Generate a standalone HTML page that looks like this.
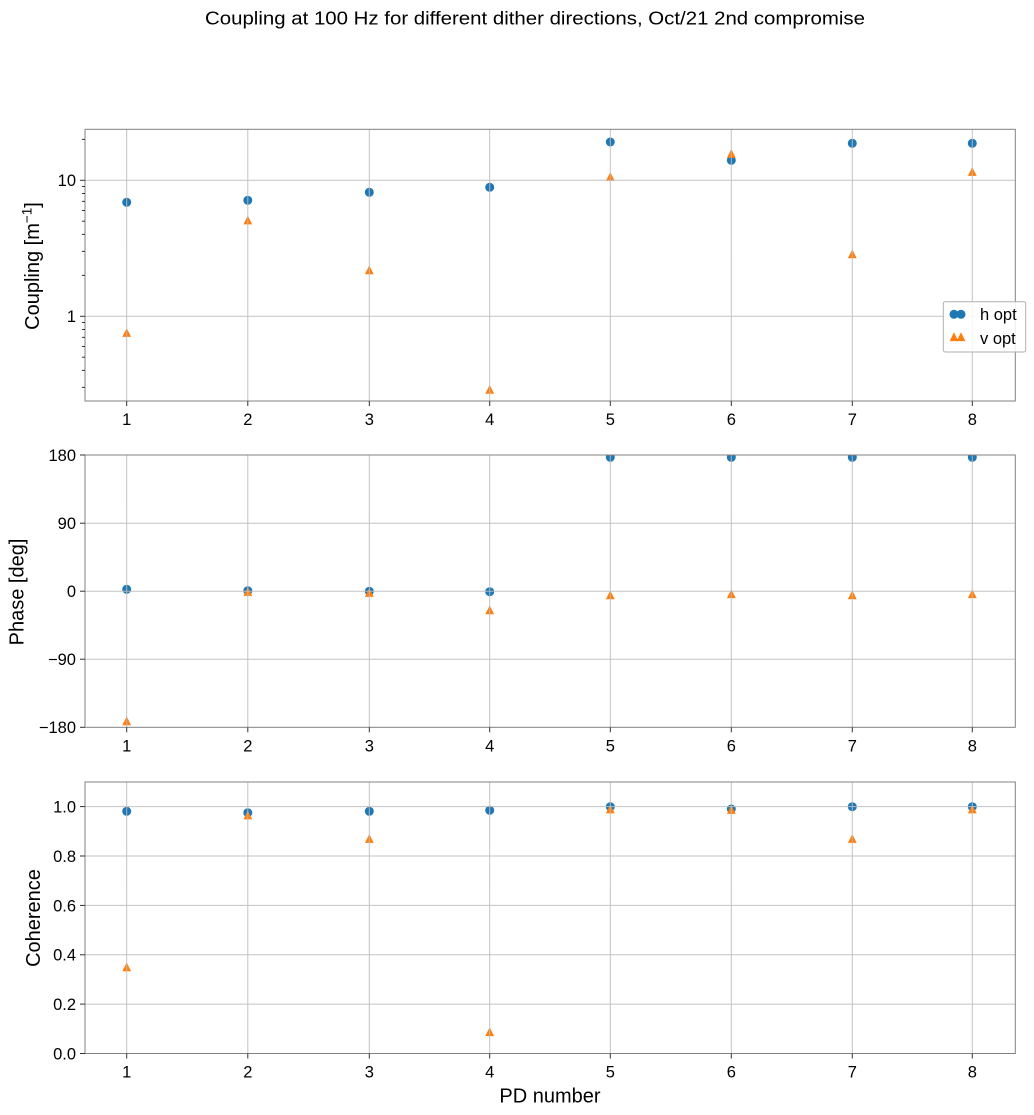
<!DOCTYPE html>
<html><head><meta charset="utf-8"><style>
html,body{margin:0;padding:0;background:#fff;}
svg{display:block;font-family:"Liberation Sans",Arial,sans-serif;}
</style></head><body>
<svg width="1034" height="1115" viewBox="0 0 1034 1115" xmlns="http://www.w3.org/2000/svg">
<defs>
<clipPath id="c1"><rect x="85" y="129.3" width="930.3" height="271.7"/></clipPath>
<clipPath id="c2"><rect x="85" y="455" width="930.3" height="272.3"/></clipPath>
<clipPath id="c3"><rect x="85" y="782" width="930.3" height="271.5"/></clipPath>
</defs>
<rect width="1034" height="1115" fill="#fff"/>
<text x="205" y="24.5" font-size="18.5" textLength="660" lengthAdjust="spacingAndGlyphs" fill="#000">Coupling at 100 Hz for different dither directions, Oct/21 2nd compromise</text>

<!-- ============ PANEL 1 ============ -->
<g clip-path="url(#c1)">
<g fill="#1f77b4">
<circle cx="126.7" cy="202.3" r="4.5"/><circle cx="247.8" cy="200.3" r="4.5"/><circle cx="369.3" cy="192.3" r="4.5"/><circle cx="489.7" cy="187.3" r="4.5"/><circle cx="610.3" cy="142" r="4.5"/><circle cx="731.3" cy="160.3" r="4.5"/><circle cx="852.3" cy="143.3" r="4.5"/><circle cx="972.3" cy="143.3" r="4.5"/>
</g>
<g fill="#ff7f0e">
<path d="M126.7 328.1 L122.3 336.9 L131.1 336.9Z"/>
<path d="M247.8 215.6 L243.4 224.4 L252.2 224.4Z"/>
<path d="M369.3 265.4 L364.9 274.2 L373.7 274.2Z"/>
<path d="M489.7 384.9 L485.3 393.7 L494.1 393.7Z"/>
<path d="M610.3 172.1 L605.9 180.9 L614.7 180.9Z"/>
<path d="M731.3 149.1 L726.9 157.9 L735.7 157.9Z"/>
<path d="M852.3 249.4 L847.9 258.2 L856.7 258.2Z"/>
<path d="M972.3 167.1 L967.9 175.9 L976.7 175.9Z"/>
</g>
<g stroke="#bdbdbd" stroke-width="1" opacity="0.9">
<line x1="126.7" y1="129" x2="126.7" y2="401"/><line x1="247.8" y1="129" x2="247.8" y2="401"/><line x1="369.3" y1="129" x2="369.3" y2="401"/><line x1="489.7" y1="129" x2="489.7" y2="401"/><line x1="610.3" y1="129" x2="610.3" y2="401"/><line x1="731.3" y1="129" x2="731.3" y2="401"/><line x1="852.3" y1="129" x2="852.3" y2="401"/><line x1="972.3" y1="129" x2="972.3" y2="401"/>
<line x1="85" y1="180.3" x2="1015.3" y2="180.3"/><line x1="85" y1="316.3" x2="1015.3" y2="316.3"/>
</g>
</g>
<rect x="85" y="129.3" width="930.3" height="271.7" fill="none" stroke="#808080" stroke-width="1"/>
<g stroke="#333" stroke-width="1">
<line x1="80" y1="180.3" x2="85" y2="180.3"/><line x1="80" y1="316.3" x2="85" y2="316.3"/>
<line x1="82" y1="387.4" x2="85" y2="387.4"/><line x1="82" y1="370.4" x2="85" y2="370.4"/><line x1="82" y1="357.2" x2="85" y2="357.2"/><line x1="82" y1="346.5" x2="85" y2="346.5"/><line x1="82" y1="337.4" x2="85" y2="337.4"/><line x1="82" y1="329.5" x2="85" y2="329.5"/><line x1="82" y1="322.5" x2="85" y2="322.5"/>
<line x1="82" y1="275.4" x2="85" y2="275.4"/><line x1="82" y1="251.4" x2="85" y2="251.4"/><line x1="82" y1="234.4" x2="85" y2="234.4"/><line x1="82" y1="221.2" x2="85" y2="221.2"/><line x1="82" y1="210.5" x2="85" y2="210.5"/><line x1="82" y1="201.4" x2="85" y2="201.4"/><line x1="82" y1="193.5" x2="85" y2="193.5"/><line x1="82" y1="186.5" x2="85" y2="186.5"/>
<line x1="82" y1="139.4" x2="85" y2="139.4"/>
<line x1="126.7" y1="401" x2="126.7" y2="406"/><line x1="247.8" y1="401" x2="247.8" y2="406"/><line x1="369.3" y1="401" x2="369.3" y2="406"/><line x1="489.7" y1="401" x2="489.7" y2="406"/><line x1="610.3" y1="401" x2="610.3" y2="406"/><line x1="731.3" y1="401" x2="731.3" y2="406"/><line x1="852.3" y1="401" x2="852.3" y2="406"/><line x1="972.3" y1="401" x2="972.3" y2="406"/>
</g>
<g font-size="16.5" fill="#000">
<text x="76" y="186.2" text-anchor="end">10</text>
<text x="76" y="322.2" text-anchor="end">1</text>
<g text-anchor="middle">
<text x="126.7" y="425">1</text><text x="247.8" y="425">2</text><text x="369.3" y="425">3</text><text x="489.7" y="425">4</text><text x="610.3" y="425">5</text><text x="731.3" y="425">6</text><text x="852.3" y="425">7</text><text x="972.3" y="425">8</text>
</g>
</g>
<text transform="translate(39,266) rotate(-90)" font-size="20" text-anchor="middle" fill="#000">Coupling [m<tspan font-size="13.5" dy="-7.5">−1</tspan><tspan dy="7.5">]</tspan></text>

<!-- legend -->
<rect x="943.3" y="301.7" width="82.4" height="50.3" rx="2" fill="#fff" fill-opacity="0.85" stroke="#b0b0b0" stroke-width="1"/>
<circle cx="954" cy="314.3" r="4.5" fill="#1f77b4"/><circle cx="961" cy="314.3" r="4.5" fill="#1f77b4"/>
<path d="M954 332.3 L949.6 341.1 L958.4 341.1Z" fill="#ff7f0e"/><path d="M961 332.3 L956.6 341.1 L965.4 341.1Z" fill="#ff7f0e"/>
<text x="980" y="319.8" font-size="16.5" fill="#000">h opt</text>
<text x="980" y="343.8" font-size="16.5" fill="#000">v opt</text>

<!-- ============ PANEL 2 ============ -->
<g clip-path="url(#c2)">
<g fill="#1f77b4">
<circle cx="126.7" cy="589.3" r="4.5"/><circle cx="247.8" cy="590.7" r="4.5"/><circle cx="369.3" cy="591.3" r="4.5"/><circle cx="489.7" cy="591.7" r="4.5"/><circle cx="610.3" cy="457.3" r="4.5"/><circle cx="731.3" cy="457.3" r="4.5"/><circle cx="852.3" cy="457.3" r="4.5"/><circle cx="972.3" cy="457.3" r="4.5"/>
</g>
<g fill="#ff7f0e">
<path d="M126.7 716.4 L122.3 725.2 L131.1 725.2Z"/>
<path d="M247.8 587.1 L243.4 595.9 L252.2 595.9Z"/>
<path d="M369.3 588.1 L364.9 596.9 L373.7 596.9Z"/>
<path d="M489.7 605.4 L485.3 614.2 L494.1 614.2Z"/>
<path d="M610.3 590.4 L605.9 599.2 L614.7 599.2Z"/>
<path d="M731.3 589.3 L726.9 598.1 L735.7 598.1Z"/>
<path d="M852.3 590.4 L847.9 599.2 L856.7 599.2Z"/>
<path d="M972.3 589.3 L967.9 598.1 L976.7 598.1Z"/>
</g>
<g stroke="#bdbdbd" stroke-width="1" opacity="0.9">
<line x1="126.7" y1="455" x2="126.7" y2="727.3"/><line x1="247.8" y1="455" x2="247.8" y2="727.3"/><line x1="369.3" y1="455" x2="369.3" y2="727.3"/><line x1="489.7" y1="455" x2="489.7" y2="727.3"/><line x1="610.3" y1="455" x2="610.3" y2="727.3"/><line x1="731.3" y1="455" x2="731.3" y2="727.3"/><line x1="852.3" y1="455" x2="852.3" y2="727.3"/><line x1="972.3" y1="455" x2="972.3" y2="727.3"/>
<line x1="85" y1="523.2" x2="1015.3" y2="523.2"/><line x1="85" y1="591.2" x2="1015.3" y2="591.2"/><line x1="85" y1="659.2" x2="1015.3" y2="659.2"/>
</g>
</g>
<rect x="85" y="455" width="930.3" height="272.3" fill="none" stroke="#808080" stroke-width="1"/>
<g stroke="#333" stroke-width="1">
<line x1="80" y1="455" x2="85" y2="455"/><line x1="80" y1="523.2" x2="85" y2="523.2"/><line x1="80" y1="591.2" x2="85" y2="591.2"/><line x1="80" y1="659.2" x2="85" y2="659.2"/><line x1="80" y1="727.3" x2="85" y2="727.3"/>
<line x1="126.7" y1="727.3" x2="126.7" y2="732.3"/><line x1="247.8" y1="727.3" x2="247.8" y2="732.3"/><line x1="369.3" y1="727.3" x2="369.3" y2="732.3"/><line x1="489.7" y1="727.3" x2="489.7" y2="732.3"/><line x1="610.3" y1="727.3" x2="610.3" y2="732.3"/><line x1="731.3" y1="727.3" x2="731.3" y2="732.3"/><line x1="852.3" y1="727.3" x2="852.3" y2="732.3"/><line x1="972.3" y1="727.3" x2="972.3" y2="732.3"/>
</g>
<g font-size="16.5" fill="#000">
<g text-anchor="end">
<text x="76" y="460.9">180</text><text x="76" y="529.1">90</text><text x="76" y="597.1">0</text><text x="76" y="665.1">−90</text><text x="76" y="733.2">−180</text>
</g>
<g text-anchor="middle">
<text x="126.7" y="751.3">1</text><text x="247.8" y="751.3">2</text><text x="369.3" y="751.3">3</text><text x="489.7" y="751.3">4</text><text x="610.3" y="751.3">5</text><text x="731.3" y="751.3">6</text><text x="852.3" y="751.3">7</text><text x="972.3" y="751.3">8</text>
</g>
</g>
<text transform="translate(23.5,592) rotate(-90)" font-size="20" text-anchor="middle" fill="#000">Phase [deg]</text>

<!-- ============ PANEL 3 ============ -->
<g clip-path="url(#c3)">
<g fill="#1f77b4">
<circle cx="126.7" cy="811.3" r="4.5"/><circle cx="247.8" cy="812.7" r="4.5"/><circle cx="369.3" cy="811.3" r="4.5"/><circle cx="489.7" cy="810.3" r="4.5"/><circle cx="610.3" cy="806.7" r="4.5"/><circle cx="731.3" cy="809" r="4.5"/><circle cx="852.3" cy="806.7" r="4.5"/><circle cx="972.3" cy="806.7" r="4.5"/>
</g>
<g fill="#ff7f0e">
<path d="M126.7 962.4 L122.3 971.2 L131.1 971.2Z"/>
<path d="M247.8 810.6 L243.4 819.4 L252.2 819.4Z"/>
<path d="M369.3 834.1 L364.9 842.9 L373.7 842.9Z"/>
<path d="M489.7 1027.3 L485.3 1036.1 L494.1 1036.1Z"/>
<path d="M610.3 804.6 L605.9 813.4 L614.7 813.4Z"/>
<path d="M731.3 805.1 L726.9 813.9 L735.7 813.9Z"/>
<path d="M852.3 834.1 L847.9 842.9 L856.7 842.9Z"/>
<path d="M972.3 804.6 L967.9 813.4 L976.7 813.4Z"/>
</g>
<g stroke="#bdbdbd" stroke-width="1" opacity="0.9">
<line x1="126.7" y1="782" x2="126.7" y2="1053.5"/><line x1="247.8" y1="782" x2="247.8" y2="1053.5"/><line x1="369.3" y1="782" x2="369.3" y2="1053.5"/><line x1="489.7" y1="782" x2="489.7" y2="1053.5"/><line x1="610.3" y1="782" x2="610.3" y2="1053.5"/><line x1="731.3" y1="782" x2="731.3" y2="1053.5"/><line x1="852.3" y1="782" x2="852.3" y2="1053.5"/><line x1="972.3" y1="782" x2="972.3" y2="1053.5"/>
<line x1="85" y1="1004.1" x2="1015.3" y2="1004.1"/><line x1="85" y1="954.8" x2="1015.3" y2="954.8"/><line x1="85" y1="905.4" x2="1015.3" y2="905.4"/><line x1="85" y1="856" x2="1015.3" y2="856"/><line x1="85" y1="806.6" x2="1015.3" y2="806.6"/>
</g>
</g>
<rect x="85" y="782" width="930.3" height="271.5" fill="none" stroke="#808080" stroke-width="1"/>
<g stroke="#333" stroke-width="1">
<line x1="80" y1="1053.5" x2="85" y2="1053.5"/><line x1="80" y1="1004.1" x2="85" y2="1004.1"/><line x1="80" y1="954.8" x2="85" y2="954.8"/><line x1="80" y1="905.4" x2="85" y2="905.4"/><line x1="80" y1="856" x2="85" y2="856"/><line x1="80" y1="806.6" x2="85" y2="806.6"/>
<line x1="126.7" y1="1053.5" x2="126.7" y2="1058.5"/><line x1="247.8" y1="1053.5" x2="247.8" y2="1058.5"/><line x1="369.3" y1="1053.5" x2="369.3" y2="1058.5"/><line x1="489.7" y1="1053.5" x2="489.7" y2="1058.5"/><line x1="610.3" y1="1053.5" x2="610.3" y2="1058.5"/><line x1="731.3" y1="1053.5" x2="731.3" y2="1058.5"/><line x1="852.3" y1="1053.5" x2="852.3" y2="1058.5"/><line x1="972.3" y1="1053.5" x2="972.3" y2="1058.5"/>
</g>
<g font-size="16.5" fill="#000">
<g text-anchor="end">
<text x="76" y="1059.4">0.0</text><text x="76" y="1010">0.2</text><text x="76" y="960.7">0.4</text><text x="76" y="911.3">0.6</text><text x="76" y="861.9">0.8</text><text x="76" y="812.5">1.0</text>
</g>
<g text-anchor="middle">
<text x="126.7" y="1077.5">1</text><text x="247.8" y="1077.5">2</text><text x="369.3" y="1077.5">3</text><text x="489.7" y="1077.5">4</text><text x="610.3" y="1077.5">5</text><text x="731.3" y="1077.5">6</text><text x="852.3" y="1077.5">7</text><text x="972.3" y="1077.5">8</text>
</g>
</g>
<text transform="translate(40,918) rotate(-90)" font-size="20" text-anchor="middle" fill="#000">Coherence</text>
<text x="550" y="1102.5" font-size="20" text-anchor="middle" fill="#000">PD number</text>
</svg>
</body></html>
